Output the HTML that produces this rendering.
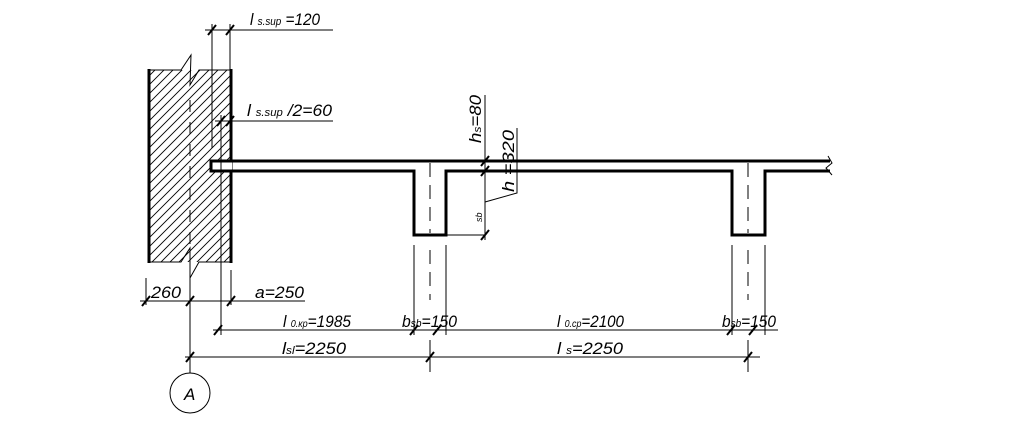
<!DOCTYPE html>
<html><head><meta charset="utf-8"><style>
html,body{margin:0;padding:0;background:#fff;}
svg{display:block;}
text{font-family:"Liberation Sans Narrow","Liberation Sans",sans-serif;font-style:italic;fill:#000;}
</style></head><body>
<svg width="1024" height="428" viewBox="0 0 1024 428" xmlns="http://www.w3.org/2000/svg">
<defs>
<pattern id="h" patternUnits="userSpaceOnUse" width="9" height="9">
<path d="M0,9 L9,0 M-2,2 L2,-2 M7,11 L11,7" stroke="#000" stroke-width="0.9" fill="none"/>
</pattern>
</defs>
<rect x="150" y="70" width="80" height="192" fill="url(#h)"/>
<g stroke="#000" fill="none">
<!-- wall -->
<line x1="149" y1="69" x2="149" y2="263" stroke-width="3"/>
<line x1="231" y1="69" x2="231" y2="263" stroke-width="3"/>
<path d="M149,70 L181,70 L191,55 L190,85 L199,70 L231,70" stroke-width="1"/>
<path d="M149,262 L181,262 L190,248 L190,278 L199,262 L231,262" stroke-width="1"/>
<line x1="190" y1="100" x2="190" y2="245" stroke-width="1" stroke-dasharray="12,10"/>
<!-- slab -->
<rect x="212" y="162" width="20" height="8" fill="#fff" stroke="none"/>
<path d="M830,161 L211,161 L211,171 L231,171" stroke-width="3"/>
<path d="M231,171 L414,171 L414,235 L446,235 L446,171 L732,171 L732,235 L765,235 L765,171 L830,171" stroke-width="3"/>
<path d="M828,156 L832,163 L826,168 L832,175" stroke-width="1"/>
<line x1="430" y1="163" x2="430" y2="233" stroke-dasharray="14,8" stroke-width="1"/>
<line x1="748" y1="163" x2="748" y2="233" stroke-dasharray="14,8" stroke-width="1"/>
<line x1="430" y1="250" x2="430" y2="300" stroke-dasharray="14,8" stroke-width="1"/>
<line x1="748" y1="250" x2="748" y2="300" stroke-dasharray="14,8" stroke-width="1"/>
<!-- top dims -->
<line x1="212" y1="24" x2="212" y2="148" stroke-width="1"/>
<line x1="230" y1="24" x2="230" y2="70" stroke-width="1"/>
<line x1="205" y1="30" x2="333" y2="30" stroke-width="1"/>
<line x1="221" y1="115" x2="221" y2="335" stroke-width="1"/>
<line x1="215" y1="121" x2="333" y2="121" stroke-width="1"/>
<!-- vertical dim right -->
<line x1="485" y1="95" x2="485" y2="240" stroke-width="1"/>
<path d="M485,202 L517,193 L517,128" stroke-width="1"/>
<line x1="446" y1="235" x2="485" y2="235" stroke-width="1"/>
<!-- extension lines ribs -->
<line x1="414" y1="245" x2="414" y2="335" stroke-width="1"/>
<line x1="446" y1="245" x2="446" y2="335" stroke-width="1"/>
<line x1="732" y1="245" x2="732" y2="335" stroke-width="1"/>
<line x1="765" y1="245" x2="765" y2="335" stroke-width="1"/>
<line x1="146" y1="278" x2="146" y2="305" stroke-width="1"/>
<line x1="231" y1="270" x2="231" y2="305" stroke-width="1"/>
<line x1="190" y1="278" x2="190" y2="373" stroke-width="1"/>
<line x1="430" y1="340" x2="430" y2="372" stroke-width="1"/>
<line x1="748" y1="340" x2="748" y2="372" stroke-width="1"/>
<!-- dim lines -->
<line x1="140" y1="301" x2="305" y2="301" stroke-width="1"/>
<line x1="213" y1="330" x2="778" y2="330" stroke-width="1"/>
<line x1="185" y1="357" x2="760" y2="357" stroke-width="1"/>
<circle cx="190" cy="393" r="20" stroke-width="1"/>
<!-- ticks -->
<g stroke-width="2">
<path d="M208,35 L216,25 M226,35 L234,25 M217,126 L225,116 M226,126 L234,116
M481,166 L489,156 M481,176 L489,166 M481,240 L489,230
M142,306 L150,296 M186,306 L194,296 M227,306 L235,296
M214,335 L222,325 M410,335 L418,325 M433,335 L441,325 M727,335 L735,325 M749,335 L757,325
M186,362 L194,352 M426,362 L434,352 M744,362 L752,352"/>
</g>
</g>
<g font-size="17">
<text x="250" y="25" textLength="70" lengthAdjust="spacingAndGlyphs">l <tspan font-size="11">s.sup</tspan> =120</text>
<text x="247" y="116" textLength="85" lengthAdjust="spacingAndGlyphs">l <tspan font-size="11">s.sup</tspan> /2=60</text>
<text x="151" y="298" textLength="30" lengthAdjust="spacingAndGlyphs">260</text>
<text x="255" y="298" textLength="49" lengthAdjust="spacingAndGlyphs">a=250</text>
<text x="283" y="327" textLength="68" lengthAdjust="spacingAndGlyphs">l <tspan font-size="10">0.кр</tspan>=1985</text>
<text x="402" y="327" textLength="55" lengthAdjust="spacingAndGlyphs">b<tspan font-size="11">sb</tspan>=150</text>
<text x="557" y="327" textLength="67" lengthAdjust="spacingAndGlyphs">l <tspan font-size="10">0.ср</tspan>=2100</text>
<text x="722" y="327" textLength="54" lengthAdjust="spacingAndGlyphs">b<tspan font-size="11">sb</tspan>=150</text>
<text x="282" y="354" textLength="64" lengthAdjust="spacingAndGlyphs">l<tspan font-size="11">sl</tspan>=2250</text>
<text x="557" y="354" textLength="66" lengthAdjust="spacingAndGlyphs">l <tspan font-size="11">s</tspan>=2250</text>
<text x="184" y="400">A</text>
<text transform="translate(481,143) rotate(-90)" textLength="48" lengthAdjust="spacingAndGlyphs">h<tspan font-size="11">s</tspan>=80</text>
<text transform="translate(514,192) rotate(-90)" textLength="62" lengthAdjust="spacingAndGlyphs">h =320</text>
<text transform="translate(482,222) rotate(-90)" font-size="9">sb</text>
</g>
</svg>
</body></html>
